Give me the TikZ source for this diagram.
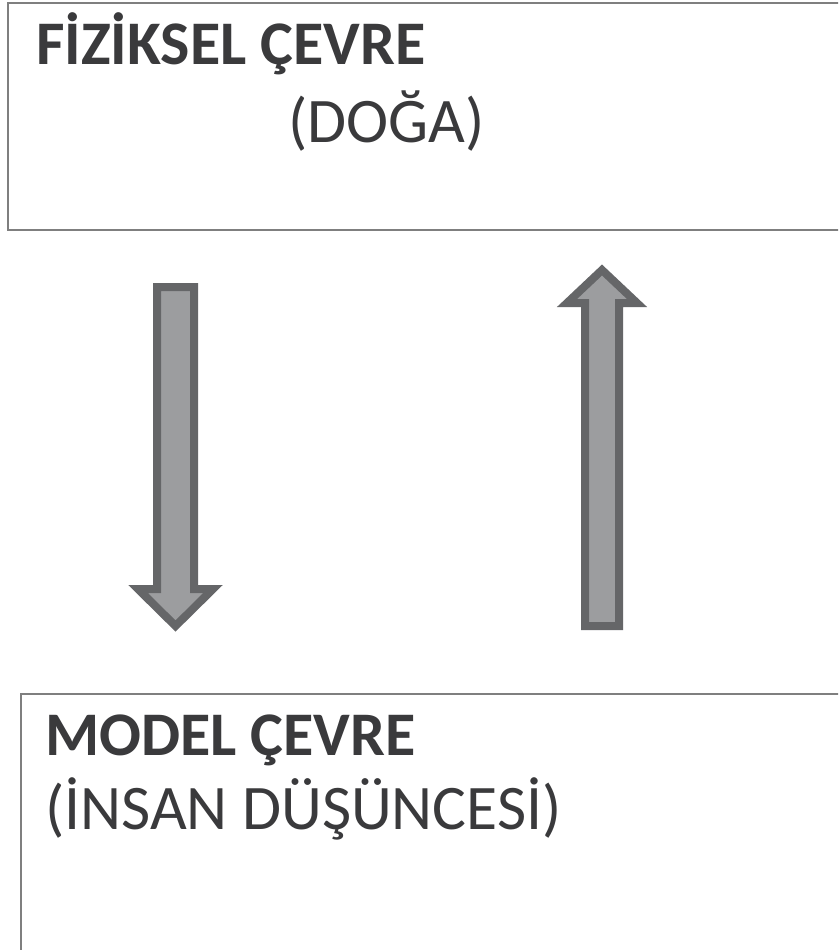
\documentclass[tikz,border=0pt]{standalone}
\usepackage{fontspec}
\setmainfont{Carlito}
\definecolor{boxline}{HTML}{7F7F7F}
\definecolor{arrline}{HTML}{656668}
\definecolor{arrfill}{HTML}{9C9D9F}
\definecolor{txt}{HTML}{3A3A3C}
\begin{document}
\begin{tikzpicture}[x=1pt,y=-1pt,
  envbox/.style={draw=boxline,line width=2.2pt,fill=white},
  title/.style={anchor=base west,inner sep=0pt,text=txt,font=\fontsize{62}{70}\selectfont\bfseries},
  sub/.style={anchor=base west,inner sep=0pt,text=txt,font=\fontsize{63.5}{70}\selectfont},
  bigarrow/.style={draw=arrline,fill=arrfill,line width=8pt,line join=miter}]
\useasboundingbox (0,0) rectangle (838,950);
\clip (0,0) rectangle (838,950);
\fill[white] (0,0) rectangle (838,950);
% boxes
\draw[envbox] (8,3) rectangle (860,230);
\draw[envbox] (21,694) rectangle (860,980);
% texts
\node[title] (t1) at (36,64) {FİZİKSEL ÇEVRE};
\node[sub] (s1) at (288,142) {(DOĞA)};
\node[title] (t2) at (45,755) {MODEL ÇEVRE};
\node[sub] (s2) at (45,829) {(İNSAN DÜŞÜNCESİ)};
% down arrow
\draw[bigarrow] (157,287) -- (194,287) -- (194,589) -- (213,589) -- (175.5,626) -- (138,589) -- (157,589) -- cycle;
% up arrow
\draw[bigarrow] (585,626) -- (619,626) -- (619,303) -- (637,303) -- (602,270) -- (567,303) -- (585,303) -- cycle;
\end{tikzpicture}
\end{document}
